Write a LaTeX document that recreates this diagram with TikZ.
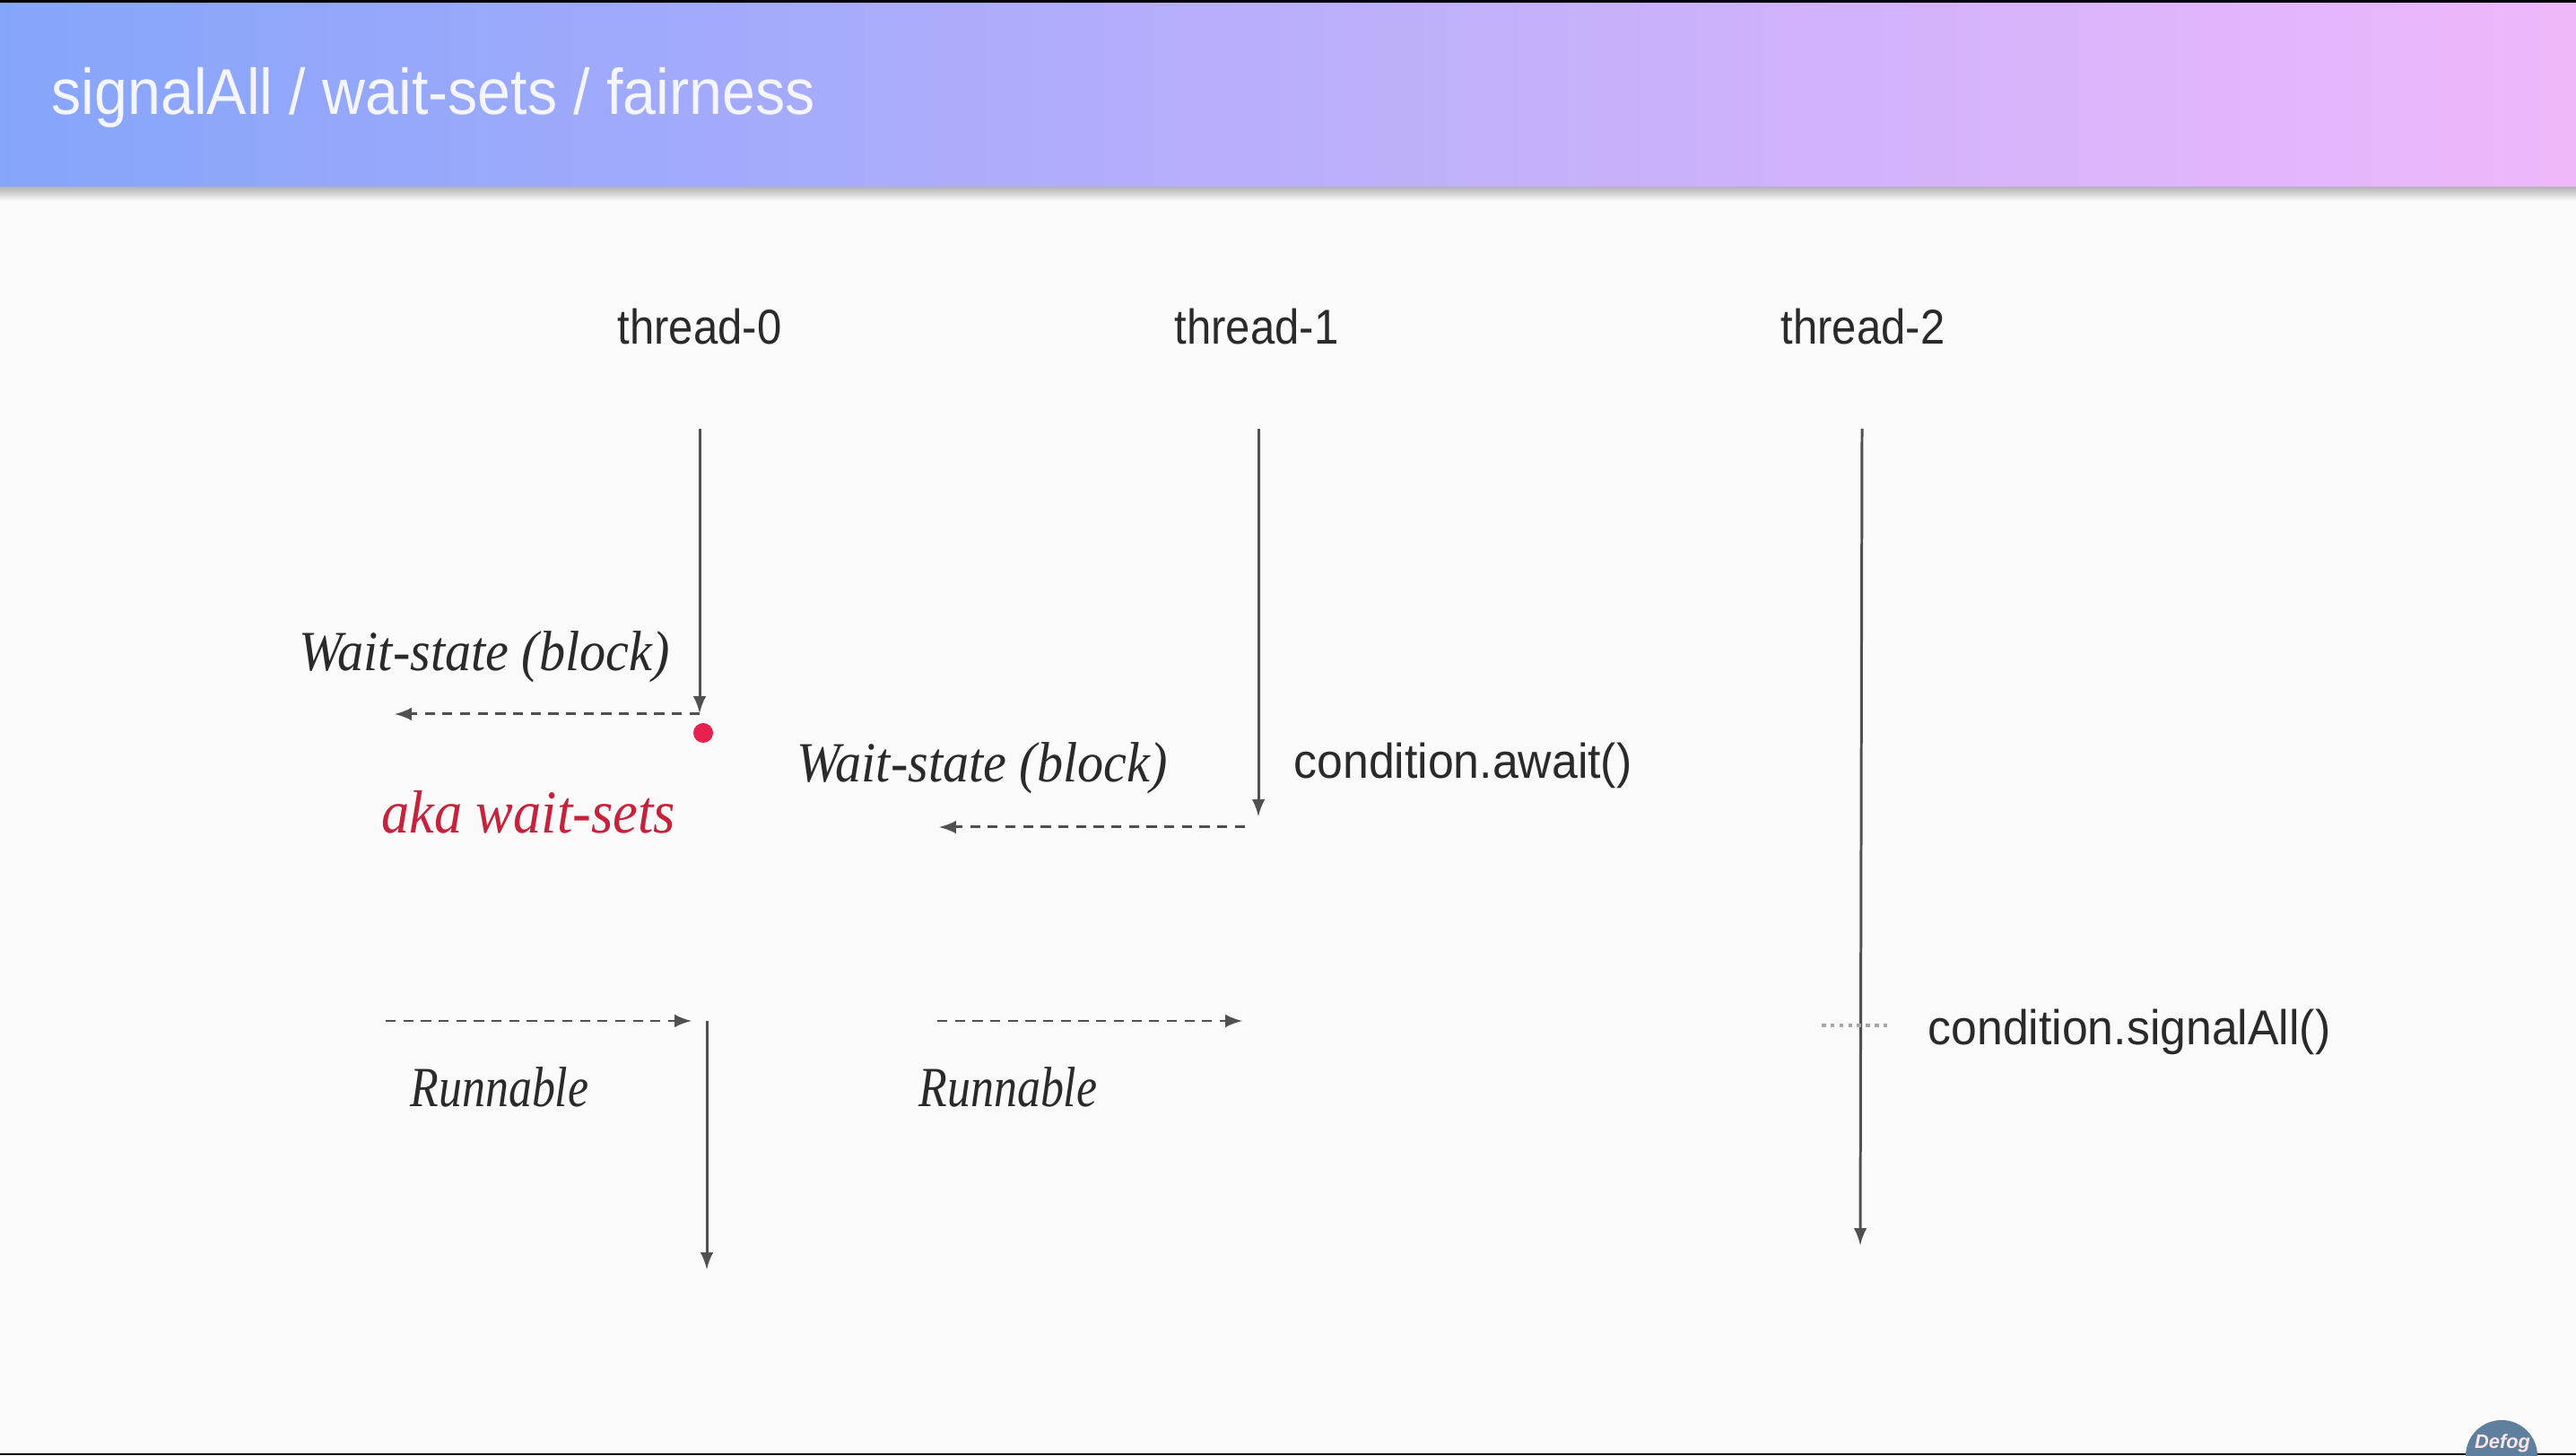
\documentclass[tikz,border=0pt]{standalone}
\usepackage{fontspec}
\setmainfont{Liberation Sans}
\newfontfamily\handfont[FakeStretch=0.92]{Liberation Serif Italic}
\newfontfamily\runfont[FakeStretch=0.82]{Liberation Serif Italic}
\newfontfamily\threadfont[FakeStretch=0.9]{Liberation Sans}
\newfontfamily\callfont[FakeStretch=0.95]{Liberation Sans}
\newfontfamily\titlefont[FakeStretch=0.92]{Liberation Sans}
\usepackage{tikz}
\definecolor{pagebg}{HTML}{FAFAFA}
\definecolor{hdrleft}{HTML}{85A5FB}
\definecolor{hdrright}{HTML}{EFB8FB}
\definecolor{inkline}{HTML}{505050}
\definecolor{inktext}{HTML}{2A2A2A}
\definecolor{dotred}{HTML}{E8204F}
\definecolor{akared}{HTML}{C8213C}
\definecolor{logoblue}{HTML}{5F7F9F}
\tikzset{
  lifeline/.style={->, >=latex, draw=inkline, line width=0.85pt},
  waitline/.style={->, >=latex, draw=inkline, line width=0.85pt, dash pattern=on 3.2pt off 2.4pt},
  threadlabel/.style={font=\threadfont\fontsize{15.5}{18}\selectfont, text=inktext, inner sep=0pt},
  calllabel/.style={font=\callfont\fontsize{15.5}{18}\selectfont, text=inktext, inner sep=0pt},
  handlabel/.style={font=\handfont\fontsize{18}{20}\selectfont, text=inktext, inner sep=0pt},
  runlabel/.style={font=\runfont\fontsize{18}{20}\selectfont, text=inktext, inner sep=0pt},
}
\begin{document}
\begin{tikzpicture}
  \useasboundingbox (0,0) rectangle (28.72,16.22);
  \clip (0,0) rectangle (28.72,16.22);
  \fill[pagebg] (0,0) rectangle (28.72,16.22);
  % header band
  \shade[top color=black!30, bottom color=pagebg] (0,14.14) rectangle (28.72,13.98);
  \shade[left color=hdrleft, right color=hdrright] (0,14.14) rectangle (28.72,16.19);
  \fill[black] (0,16.19) rectangle (28.72,16.22);
  \fill[black] (0,0) rectangle (28.72,0.02);
  \node[anchor=base west, inner sep=0pt, text=white!96!blue, font=\titlefont\fontsize{20.5}{24}\selectfont] (title) at (0.57,14.94) {signalAll / wait-sets / fairness};
  % thread heads
  \node[threadlabel] (thread0) at (7.80,12.58) {thread-0};
  \node[threadlabel] (thread1) at (14.01,12.58) {thread-1};
  \node[threadlabel] (thread2) at (20.77,12.58) {thread-2};
  \coordinate (t0top) at (7.80,11.44);
  \coordinate (t0end) at (7.80,8.27);
  \coordinate (t1top) at (14.03,11.44);
  \coordinate (t1end) at (14.03,7.12);
  \coordinate (t2top) at (20.76,11.44);
  \coordinate (t2end) at (20.74,2.34);
  \coordinate (t0rtop) at (7.88,4.84);
  \coordinate (t0rend) at (7.88,2.07);
  \draw[lifeline] (t0top) -- (t0end);
  \draw[lifeline] (t1top) -- (t1end);
  \draw[lifeline] (t2top) -- (t2end);
  \draw[lifeline] (t0rtop) -- (t0rend);
  % blocked
  \coordinate (w0from) at (7.80,8.26);
  \coordinate (w0to) at (4.40,8.26);
  \coordinate (w1from) at (13.88,7.00);
  \coordinate (w1to) at (10.47,7.00);
  \draw[waitline] (w0from) -- (w0to);
  \draw[waitline] (w1from) -- (w1to);
  \node[handlabel] (wait0) at (5.40,8.90) {Wait-state (block)};
  \node[handlabel] (wait1) at (10.95,7.66) {Wait-state (block)};
  \node[handlabel, font=\handfont\fontsize{19.3}{21}\selectfont, text=akared] (waitsets) at (5.89,7.17) {aka wait-sets};
  \node[circle, fill=dotred, inner sep=0pt, minimum size=0.22cm] (dot) at (7.84,8.05) {};
  \node[calllabel] (await) at (16.31,7.69) {condition.await()};
  % runnable again
  \coordinate (r0from) at (4.30,4.84);
  \coordinate (r0to) at (7.71,4.84);
  \coordinate (r1from) at (10.45,4.84);
  \coordinate (r1to) at (13.85,4.84);
  \draw[waitline] (r0from) -- (r0to);
  \draw[waitline] (r1from) -- (r1to);
  \node[runlabel] (run0) at (5.57,4.10) {Runnable};
  \node[runlabel] (run1) at (11.24,4.10) {Runnable};
  % signal
  \coordinate (sigfrom) at (20.31,4.79);
  \coordinate (sigto) at (21.09,4.79);
  \draw[draw=gray!70, line width=1pt, dash pattern=on 1.3pt off 1.5pt] (sigfrom) -- (sigto);
  \node[calllabel] (signal) at (23.74,4.72) {condition.signalAll()};
  % logo
  \node[circle, fill=logoblue, inner sep=0pt, minimum size=0.8cm] (logo) at (27.89,-0.01) {};
  \node[text=white!90!red, font=\bfseries\itshape\fontsize{6.2}{7}\selectfont, inner sep=0pt, anchor=base] (logotext) at (27.90,0.08) {Defog};
\end{tikzpicture}
\end{document}
